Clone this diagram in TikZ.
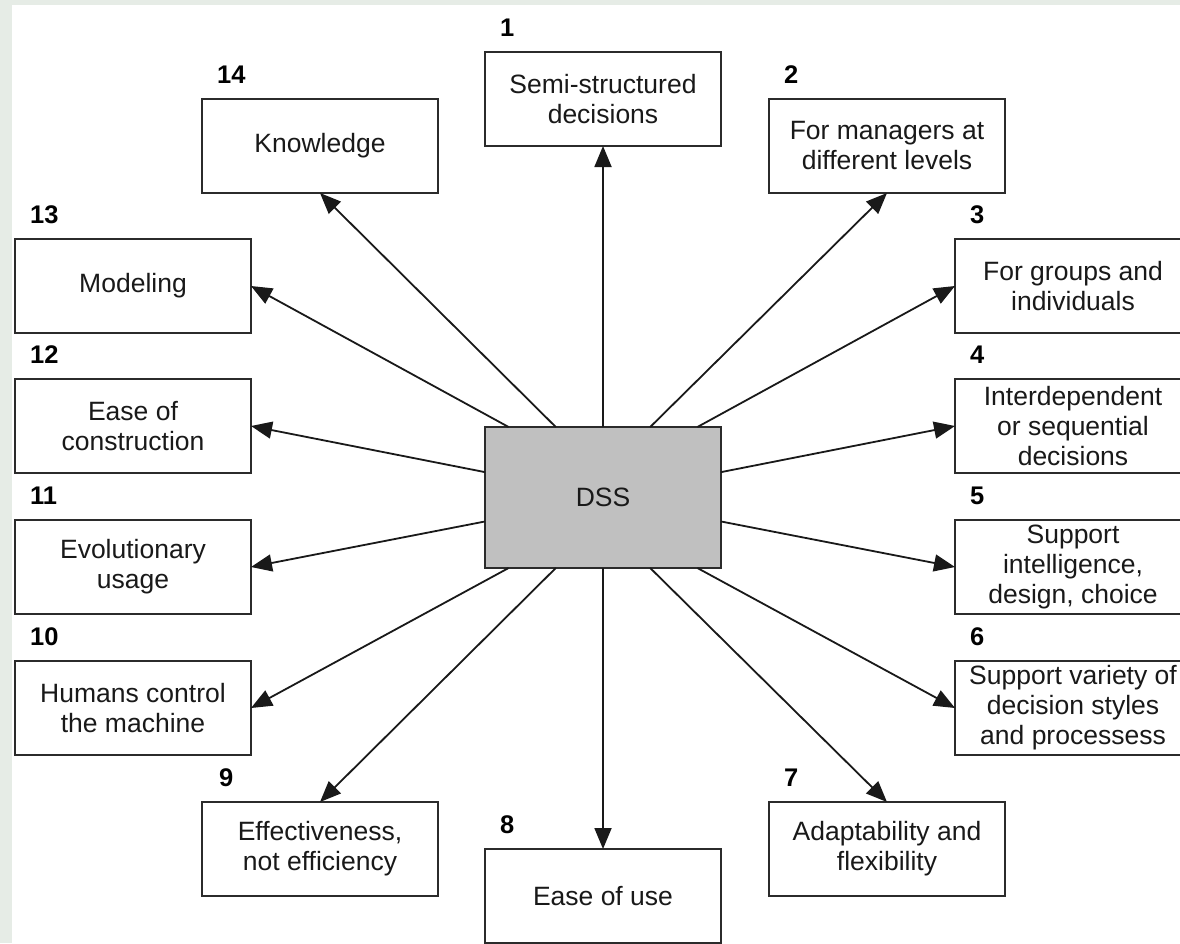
\documentclass[tikz,border=0pt]{standalone}
\usepackage{fontspec}
\setmainfont{Liberation Sans}
\usetikzlibrary{arrows.meta,calc}
\definecolor{bgpale}{HTML}{E6ECE6}
\definecolor{dssgrey}{HTML}{C0C0C0}
\definecolor{edge}{HTML}{2B2B2B}
\begin{document}
\begin{tikzpicture}[x=1pt,y=-1pt,
  box/.style={draw=edge, line width=1.8pt, fill=white, minimum width=236pt, minimum height=94pt,
    inner sep=0pt, outer sep=0pt, anchor=north west, align=center,
    font=\fontsize{26.5}{30}\selectfont, text=black!90},
  num/.style={anchor=base west, inner sep=0pt, font=\fontsize{25.5}{30}\selectfont\bfseries, text=black},
  arr/.style={draw=black!90, line width=1.8pt, -{Triangle[length=21pt,width=17pt]}}]
\useasboundingbox (0,0) rectangle (1180,943);
\fill[bgpale] (0,0) rectangle (1180,943);
\fill[white] (12,5) rectangle (1180,943);

% central box
\node[box, fill=dssgrey, minimum height=141pt] (dss) at (485,427) {DSS};

% boxes
\node[box] (b1) at (485,52) {Semi-structured\\decisions};
\node[box] (b2) at (769,99) {For managers at\\different levels};
\node[box] (b3) at (955,239) {For groups and\\individuals};
\node[box] (b4) at (955,379) {Interdependent\\or sequential\\decisions};
\node[box] (b5) at (955,520) {Support\\intelligence,\\design, choice};
\node[box] (b6) at (955,661) {Support variety of\\decision styles\\and processess};
\node[box] (b7) at (769,802) {Adaptability and\\flexibility};
\node[box] (b8) at (485,849) {Ease of use};
\node[box] (b9) at (202,802) {Effectiveness,\\not efficiency};
\node[box] (b10) at (15,661) {Humans control\\the machine};
\node[box] (b11) at (15,520) {Evolutionary\\usage};
\node[box] (b12) at (15,379) {Ease of\\construction};
\node[box] (b13) at (15,239) {Modeling};
\node[box] (b14) at (202,99) {Knowledge};

% numbers
\node[num] (n1) at (500,36) {1};
\node[num] (n2) at (784,83) {2};
\node[num] (n3) at (970,223) {3};
\node[num] (n4) at (970,363) {4};
\node[num] (n5) at (970,504) {5};
\node[num] (n6) at (970,645) {6};
\node[num] (n7) at (784,786) {7};
\node[num] (n8) at (500,833) {8};
\node[num] (n9) at (219,786) {9};
\node[num] (n10) at (30,645) {10};
\node[num] (n11) at (30,504) {11};
\node[num] (n12) at (30,363) {12};
\node[num] (n13) at (30,223) {13};
\node[num] (n14) at (217,83) {14};

% connectors
\draw[arr] ($(dss.north west)!0.5!(dss.north east)$) -- (b1.south);
\draw[arr] ($(dss.north west)!0.7!(dss.north east)$) -- (b2.south);
\draw[arr] ($(dss.north west)!0.9!(dss.north east)$) -- (b3.west);
\draw[arr] ($(dss.north east)!0.32!(dss.south east)$) -- (b4.west);
\draw[arr] ($(dss.north east)!0.67!(dss.south east)$) -- (b5.west);
\draw[arr] ($(dss.south west)!0.9!(dss.south east)$) -- (b6.west);
\draw[arr] ($(dss.south west)!0.7!(dss.south east)$) -- (b7.north);
\draw[arr] ($(dss.south west)!0.5!(dss.south east)$) -- (b8.north);
\draw[arr] ($(dss.south west)!0.3!(dss.south east)$) -- (b9.north);
\draw[arr] ($(dss.south west)!0.1!(dss.south east)$) -- (b10.east);
\draw[arr] ($(dss.north west)!0.67!(dss.south west)$) -- (b11.east);
\draw[arr] ($(dss.north west)!0.32!(dss.south west)$) -- (b12.east);
\draw[arr] ($(dss.north west)!0.1!(dss.north east)$) -- (b13.east);
\draw[arr] ($(dss.north west)!0.3!(dss.north east)$) -- (b14.south);
\end{tikzpicture}
\end{document}
